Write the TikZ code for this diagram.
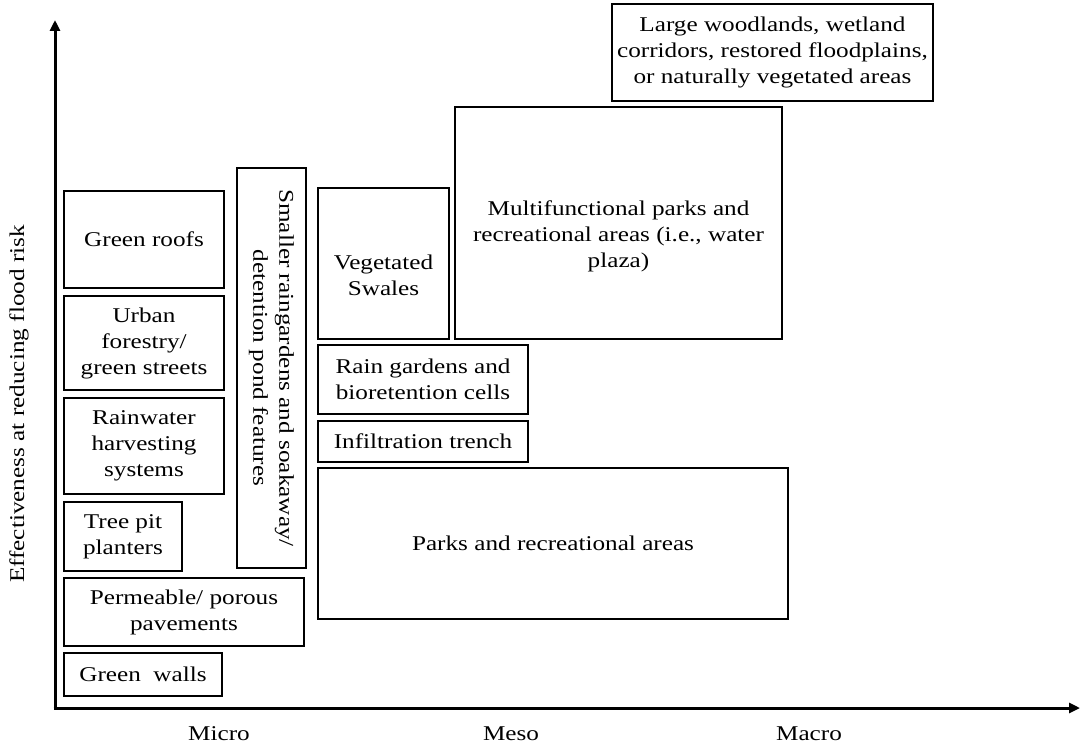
\documentclass[tikz,border=0pt]{standalone}
\usepackage{fontspec}
\setmainfont[FakeStretch=1.2]{Liberation Serif}
\usetikzlibrary{arrows.meta}
\begin{document}
\begin{tikzpicture}[x=1pt,y=-1pt,
  txt/.style={font=\fontsize{21}{26}\selectfont, align=center, inner sep=0pt},
  box/.style={draw, line width=1.7pt, txt},
  axis/.style={line width=3pt, -{Triangle[length=11pt,width=10pt]}}]
\useasboundingbox (0,0) rectangle (1081,749);
% axes
\coordinate (origin) at (55,708);
\coordinate (ytop) at (55,20);
\coordinate (xend) at (1080,708);
\draw[axis] (origin) -- (ytop);
\draw[axis] ([xshift=-1.5pt]origin) -- (xend);
% axis labels
\node[txt, rotate=90] (ylab) at (19,404) {Effectiveness at reducing flood risk};
\node[txt] (micro) at (219,734) {Micro};
\node[txt] (meso) at (511,734) {Meso};
\node[txt] (macro) at (809,734) {Macro};
% micro scale measures
\node[box, minimum width=160pt, minimum height=97pt] (roofs) at (144,239.5) {Green roofs};
\node[box, minimum width=160pt, minimum height=94pt] (forest) at (144,343) {Urban\\forestry/\\green streets};
\node[box, minimum width=160pt, minimum height=96pt] (rain) at (144,446) {Rainwater\\harvesting\\systems};
\node[box, minimum width=118pt, minimum height=69pt] (tree) at (123,536.5) {Tree pit\\planters};
\node[box, minimum width=240pt, minimum height=68pt] (perm) at (184,612) {Permeable/ porous\\pavements};
\node[box, minimum width=158pt, minimum height=43pt] (walls) at (143,674.5) {Green\ \ walls};
\node[box, rotate=-90, minimum width=400pt, minimum height=69pt] (soak) at (271.5,368) {Smaller raingardens and soakaway/\\detention pond features};
% meso scale measures
\node[box, minimum width=131pt, minimum height=151pt] (swales) at (383.5,263.5) {};
\node[txt] (swalestxt) at ([yshift=-12pt]swales.center) {Vegetated\\Swales};
\node[box, minimum width=210pt, minimum height=69pt] (gardens) at (423,379.5) {Rain gardens and\\bioretention cells};
\node[box, minimum width=210pt, minimum height=41pt] (trench) at (423,441.5) {Infiltration trench};
\node[box, minimum width=470pt, minimum height=151pt] (parks) at (553,543.5) {Parks and recreational areas};
% macro scale measures
\node[box, minimum width=327pt, minimum height=232pt] (multi) at (618.5,223) {};
\node[txt] (multitxt) at ([yshift=-13pt]multi.center) {Multifunctional parks and\\recreational areas (i.e., water\\plaza)};
\node[box, minimum width=321pt, minimum height=97pt] (wood) at (772.5,52.5) {Large woodlands, wetland\\corridors, restored floodplains,\\or naturally vegetated areas};
\end{tikzpicture}
\end{document}
